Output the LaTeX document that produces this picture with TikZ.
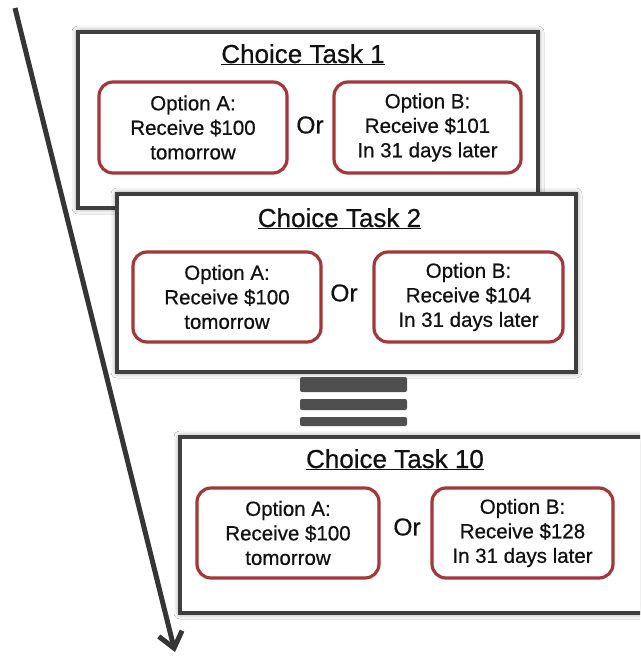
\documentclass[tikz,border=0pt]{standalone}
\usepackage{fontspec}
\setmainfont{Liberation Sans}[FakeBold=0.6]
\usetikzlibrary{arrows.meta,shadows.blur}
\definecolor{frame}{HTML}{3F3F3F}
\definecolor{optred}{HTML}{A3373A}
\definecolor{barcol}{HTML}{4F4F4F}
\definecolor{arrowcol}{HTML}{353535}
\definecolor{txt}{HTML}{111111}
\tikzset{
  taskbox/.style={draw=frame, line width=4pt, fill=white, inner sep=0pt,
    blur shadow={shadow xshift=0pt, shadow yshift=0pt, shadow blur radius=6pt, shadow opacity=55}},
  optbox/.style={draw=optred, line width=3.2pt, rounded corners=14pt, fill=white,
    align=center, inner sep=0pt, text=txt,
    font=\fontsize{20.5}{24.5}\selectfont},
  ortext/.style={text=txt, font=\fontsize{24.5}{28}\selectfont, inner sep=0pt},
  titletext/.style={text=txt, font=\fontsize{26}{30}\selectfont, inner sep=0pt, anchor=base},
  barshape/.style={fill=barcol, rounded corners=2pt, inner sep=0pt, draw=none},
  timearrow/.style={draw=arrowcol, line width=5pt, -{Straight Barb[length=15pt,width=24pt]}}
}
\begin{document}
\begin{tikzpicture}[x=1pt,y=-1pt]
\useasboundingbox (0,0) rectangle (640,656);
\clip (0,0) rectangle (640,656);
\fill[white] (0,0) rectangle (640,656);

% time arrow
\coordinate (astart) at (15,8);
\coordinate (aend) at (175,652);
\draw[timearrow] (astart) -- (aend);

% Choice Task 1
\node[taskbox, minimum width=460pt, minimum height=176pt] (t1) at (308,120) {};
\node[titletext] (t1title) at (303,63) {\underline{Choice Task 1}};
\node[optbox, minimum width=188pt, minimum height=91pt] (t1a) at (193,127.5) {Option A:\\Receive \$100\\tomorrow};
\node[ortext] (t1or) at (310,125) {Or};
\node[optbox, minimum width=187pt, minimum height=91pt] (t1b) at (427.5,127.5) {Option B:\\Receive \$101\\In 31 days later};

% Choice Task 2
\node[taskbox, minimum width=459pt, minimum height=178pt] (t2) at (346.5,283) {};
\node[titletext] (t2title) at (339.5,227) {\underline{Choice Task 2}};
\node[optbox, minimum width=188pt, minimum height=90pt] (t2a) at (227,297) {Option A:\\Receive \$100\\tomorrow};
\node[ortext] (t2or) at (344,293) {Or};
\node[optbox, minimum width=189pt, minimum height=90pt] (t2b) at (468.5,297) {Option B:\\Receive \$104\\In 31 days later};

% continuation bars
\node[barshape, minimum width=107pt, minimum height=15pt] (bar1) at (353.5,384.5) {};
\node[barshape, minimum width=107pt, minimum height=11pt] (bar2) at (353.5,404.5) {};
\node[barshape, minimum width=107pt, minimum height=9pt] (bar3) at (353.5,421.5) {};

% Choice Task 10
\node[taskbox, minimum width=480pt, minimum height=176pt] (t10) at (420,525) {};
\node[titletext] (t10title) at (395,468) {\underline{Choice Task 10}};
\node[optbox, minimum width=182pt, minimum height=90pt] (t10a) at (288,533) {Option A:\\Receive \$100\\tomorrow};
\node[ortext] (t10or) at (407,527) {Or};
\node[optbox, minimum width=181pt, minimum height=90pt] (t10b) at (522.5,533) {Option B:\\Receive \$128\\In 31 days later};
\end{tikzpicture}
\end{document}
